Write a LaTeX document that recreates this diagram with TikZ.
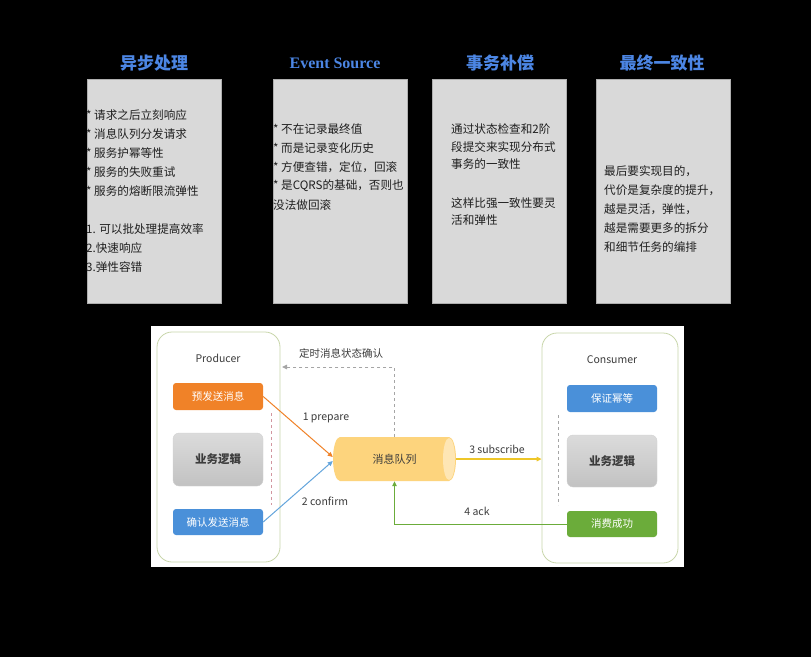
\documentclass[tikz,border=0pt]{standalone}
\usepackage{fontspec}
\setmainfont{Liberation Serif}
\newfontfamily\cjk{Noto Sans CJK SC}
\usetikzlibrary{arrows.meta}
\definecolor{titleblue}{RGB}{76,134,228}
\definecolor{boxgray}{RGB}{217,217,217}
\definecolor{boxline}{RGB}{175,175,175}
\definecolor{orangeC}{RGB}{240,130,40}
\definecolor{blueC}{RGB}{74,144,217}
\definecolor{greenC}{RGB}{107,172,58}
\definecolor{contline}{RGB}{200,214,170}
\definecolor{queueC}{RGB}{253,212,125}
\definecolor{queueEnd}{RGB}{254,230,180}
\definecolor{dashgray}{RGB}{165,165,165}
\definecolor{pinkdash}{RGB}{210,150,160}
\definecolor{yellowC}{RGB}{238,198,40}
\definecolor{arrowblue}{RGB}{100,165,220}
\definecolor{textdark}{RGB}{60,60,60}
\begin{document}
\begin{tikzpicture}[x=1pt,y=-1pt,
  titlenode/.style={text=titleblue, font=\cjk\bfseries\fontsize{17}{20}\selectfont, inner sep=0},
  infobox/.style={fill=boxgray, draw=boxline, line width=0.4pt, minimum width=134pt, minimum height=224pt, inner sep=0},
  boxtext/.style={anchor=west, inner sep=0, text=black!88, font=\cjk\fontsize{11.6}{14}\selectfont},
  container/.style={draw=contline, line width=0.8pt, rounded corners=15pt, fill=white, inner sep=0},
  cbox/.style={rounded corners=3pt, minimum width=90pt, inner sep=0, text=white, font=\cjk\fontsize{10.5}{12}\selectfont},
  bizbox/.style={rounded corners=6pt, minimum width=90pt, minimum height=53pt, inner sep=0, top color=gray!28, bottom color=gray!48, draw=gray!35, text=textdark, font=\cjk\bfseries\fontsize{11.5}{13}\selectfont},
  lbl/.style={inner sep=0, text=textdark, font=\cjk\fontsize{10.5}{12}\selectfont},
  tip/.style={-{Triangle[length=5pt,width=4.5pt]}},
]
\useasboundingbox (0,0) rectangle (811,657);
\fill[black] (0,0) rectangle (811,657);

% ---------- titles ----------
\node[titlenode] (t1) at (154,63) {异步处理};
\node[titlenode, font=\bfseries\fontsize{16}{19}\selectfont] (t2) at (335,63) {Event Source};
\node[titlenode] (t3) at (500,63) {事务补偿};
\node[titlenode] (t4) at (662,63) {最终一致性};

% ---------- info boxes ----------
\node[infobox] (b1) at (154,191) {};
\node[infobox] (b2) at (340,191) {};
\node[infobox] (b3) at (499.5,191) {};
\node[infobox] (b4) at (663,191) {};

\foreach \y/\t [count=\i] in {115/{* 请求之后立刻响应}, 134/{* 消息队列分发请求}, 153/{* 服务护幂等性}, 172/{* 服务的失败重试}, 191/{* 服务的熔断限流弹性}, 229/{1. 可以批处理提高效率}, 248/{2.快速响应}, 267/{3.弹性容错}}
  \node[boxtext] (b1l\i) at (86,\y) {\t};

\foreach \y/\t [count=\i] in {129/{* 不在记录最终值}, 148/{* 而是记录变化历史}, 167/{* 方便查错，定位，回滚}, 186/{* 是CQRS的基础，否则也}, 205/{没法做回滚}}
  \node[boxtext] (b2l\i) at (273,\y) {\t};

\foreach \y/\t [count=\i] in {129/{通过状态检查和2阶}, 147/{段提交来实现分布式}, 164.5/{事务的一致性}, 203/{这样比强一致性要灵}, 220.5/{活和弹性}}
  \node[boxtext] (b3l\i) at (451,\y) {\t};

\foreach \y/\t [count=\i] in {171/{最后要实现目的，}, 190/{代价是复杂度的提升，}, 209/{越是灵活，弹性，}, 228/{越是需要更多的拆分}, 247/{和细节任务的编排}}
  \node[boxtext] (b4l\i) at (604,\y) {\t};

% ---------- bottom diagram ----------
\fill[white] (151,326) rectangle (684,567);

\node[container, minimum width=123pt, minimum height=230pt] (prod) at (218.5,447) {};
\node[container, minimum width=136pt, minimum height=230pt] (cons) at (610,448) {};
\node[lbl] (prodlbl) at (218,358) {Producer};
\node[lbl] (conslbl) at (612,360) {Consumer};

\node[cbox, fill=orangeC, minimum height=27pt] (pre) at (218,396.5) {预发送消息};
\node[bizbox] (biz1) at (218,459.5) {业务逻辑};
\node[cbox, fill=blueC, minimum height=26pt] (conf) at (218,522) {确认发送消息};

\node[cbox, fill=blueC, minimum height=27pt] (idem) at (612,398.5) {保证幂等};
\node[bizbox, minimum height=52pt] (biz2) at (612,461) {业务逻辑};
\node[cbox, fill=greenC, minimum height=26pt] (succ) at (612,524) {消费成功};

% queue cylinder
\fill[queueC] (340,437) -- (449,437) arc[start angle=-90, end angle=90, x radius=7, y radius=22]
  -- (340,481) arc[start angle=90, end angle=270, x radius=7, y radius=22] -- cycle;
\fill[queueEnd] (449,459) ellipse [x radius=6, y radius=21];
\node[lbl, minimum width=123pt, minimum height=44pt, font=\cjk\fontsize{11}{13}\selectfont] (q) at (394.5,459) {消息队列};

% dashed guide lines
\coordinate (pd1) at (271,413);
\coordinate (pd2) at (271,505);
\coordinate (cd1) at (558,415);
\coordinate (cd2) at (558,505);
\draw[pinkdash, dashed, line width=0.8pt] (pd1) -- (pd2);
\draw[dashgray, dashed, line width=0.8pt] (cd1) -- (cd2);

% connectors
\coordinate (ret) at (282,367);
\draw[dashgray, dashed, line width=1pt, tip] (q.north) |- (ret);
\node[lbl] (retlbl) at (341,353) {定时消息状态确认};

\draw[orangeC, line width=1pt, tip] (pre.east) -- ([yshift=2pt]q.west);
\node[lbl] (l1) at (326,418) {1 prepare};

\draw[arrowblue, line width=1pt, tip] (conf.east) -- ([yshift=-2pt]q.west);
\node[lbl] (l2) at (325,501) {2 confirm};

\draw[yellowC, line width=1.2pt, tip] (q.east) -- (q.east -| cons.west);
\node[lbl] (l3) at (497,449) {3 subscribe};

\draw[greenC, line width=1pt, tip] (succ.west) -| (q.south);
\node[lbl] (l4) at (477,511) {4 ack};
\end{tikzpicture}
\end{document}
